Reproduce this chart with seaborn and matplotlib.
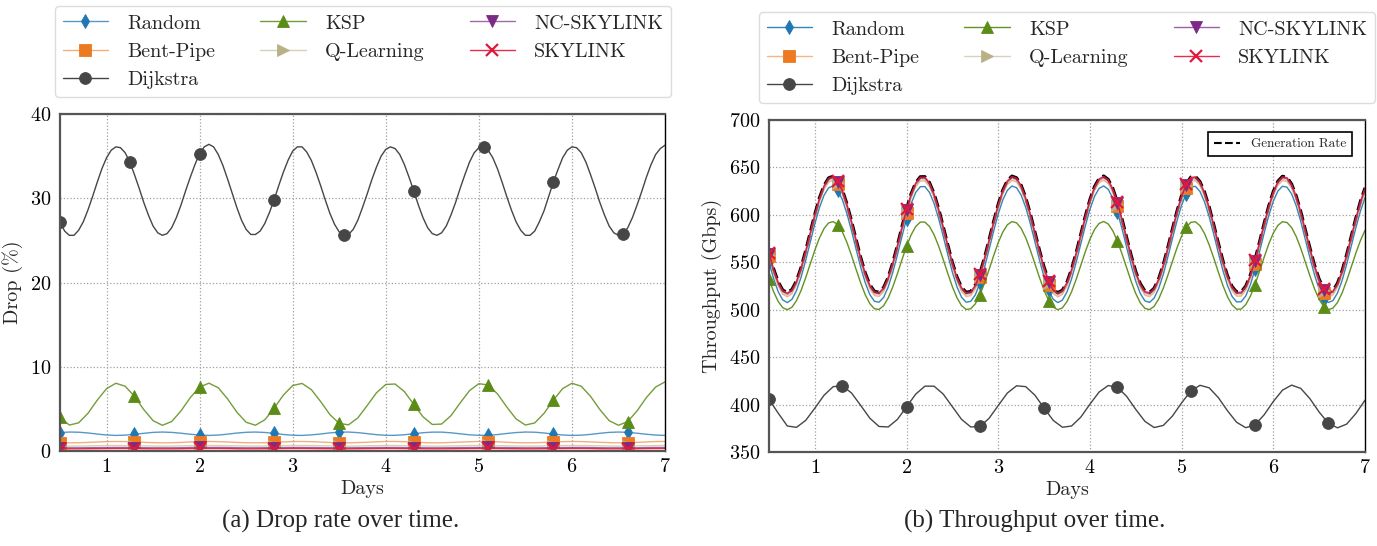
import numpy as np
import matplotlib
matplotlib.use("Agg")
import matplotlib.pyplot as plt
from matplotlib.colors import to_rgba
import seaborn as sns

# ---------------------------------------------------------------- data
# time axis (days); fine grid every 0.05 day, coarse grid every 0.1 day
days_fine = np.linspace(0.5, 7.0, 131)
days_coarse = np.linspace(0.5, 7.0, 66)

# ---- drop rate (%) ----
drop_dijkstra = [
    27.2, 26.1, 25.6, 25.6, 26.2, 27.2, 28.6, 30.2, 31.9, 33.5,
    34.8, 35.7, 36.1, 36.0, 35.4, 34.3, 32.8, 31.2, 29.5, 28.0,
    26.7, 25.9, 25.6, 25.8, 26.5, 27.7, 29.2, 30.9, 32.5, 34.0,
    35.3, 36.1, 36.4, 36.1, 35.2, 33.9, 32.3, 30.6, 28.9, 27.4,
    26.3, 25.7, 25.7, 26.1, 27.0, 28.3, 29.8, 31.5, 33.1, 34.5,
    35.6, 36.1, 36.1, 35.5, 34.5, 33.1, 31.5, 29.8, 28.2, 26.9,
    26.0, 25.6, 25.7, 26.3, 27.4, 28.9, 30.5, 32.2, 33.7, 35.0,
    35.8, 36.1, 35.9, 35.2, 34.0, 32.5, 30.9, 29.2, 27.7, 26.5,
    25.8, 25.6, 25.9, 26.7, 28.0, 29.5, 31.2, 32.8, 34.3, 35.4,
    36.0, 36.1, 35.7, 34.8, 33.5, 31.9, 30.2, 28.6, 27.2, 26.2,
    25.6, 25.6, 26.1, 27.2, 28.5, 30.2, 31.9, 33.4, 34.8, 35.7,
    36.1, 36.0, 35.4, 34.3, 32.8, 31.2, 29.5, 28.0, 26.7, 25.9,
    25.6, 25.8, 26.5, 27.7, 29.2, 30.8, 32.5, 34.0, 35.2, 35.9,
    36.3]

drop_ksp = [
    4.00, 3.08, 3.34, 4.47, 6.03, 7.40, 8.04, 7.69, 6.49, 4.92,
    3.60, 3.05, 3.50, 4.76, 6.34, 7.60, 8.05, 7.51, 6.19, 4.61,
    3.41, 3.06, 3.70, 5.07, 6.64, 7.77, 8.02, 7.29, 5.87, 4.32,
    3.27, 3.11, 3.93, 5.39, 6.91, 7.90, 7.95, 7.05, 5.55, 4.06,
    3.15, 3.20, 4.19, 5.71, 7.17, 7.99, 7.84, 6.78, 5.23, 3.81,
    3.08, 3.33, 4.46, 6.03, 7.40, 8.04, 7.69, 6.49, 4.92, 3.60,
    3.05, 3.50, 4.76, 6.34, 7.60, 8.20]

drop_random = [
    2.19, 2.25, 2.23, 2.14, 2.01, 1.90, 1.85, 1.88, 1.98, 2.10,
    2.21, 2.25, 2.21, 2.11, 1.99, 1.89, 1.85, 1.89, 2.00, 2.13,
    2.22, 2.25, 2.20, 2.09, 1.96, 1.87, 1.85, 1.91, 2.02, 2.15,
    2.23, 2.25, 2.18, 2.06, 1.94, 1.86, 1.86, 1.93, 2.05, 2.17,
    2.24, 2.24, 2.16, 2.04, 1.92, 1.86, 1.87, 1.95, 2.08, 2.19,
    2.25, 2.23, 2.14, 2.01, 1.90, 1.85, 1.88, 1.97, 2.10, 2.21,
    2.25, 2.21, 2.11, 1.99, 1.89, 1.85]

drop_bentpipe = [
    0.99, 0.97, 0.98, 1.02, 1.07, 1.11, 1.13, 1.12, 1.08, 1.03,
    0.99, 0.97, 0.98, 1.02, 1.08, 1.12, 1.13, 1.11, 1.07, 1.02,
    0.98, 0.97, 0.99, 1.03, 1.08, 1.12, 1.13, 1.11, 1.06, 1.01,
    0.98, 0.97, 1.00, 1.04, 1.09, 1.13, 1.13, 1.10, 1.05, 1.00,
    0.97, 0.98, 1.01, 1.06, 1.10, 1.13, 1.12, 1.09, 1.04, 0.99,
    0.97, 0.98, 1.02, 1.07, 1.11, 1.13, 1.12, 1.08, 1.03, 0.99,
    0.97, 0.98, 1.02, 1.08, 1.12, 1.13]

drop_qlearning = [
    0.59, 0.58, 0.58, 0.60, 0.63, 0.65, 0.66, 0.65, 0.64, 0.61,
    0.59, 0.58, 0.59, 0.61, 0.63, 0.65, 0.66, 0.65, 0.63, 0.61,
    0.59, 0.58, 0.59, 0.61, 0.64, 0.66, 0.66, 0.65, 0.63, 0.60,
    0.58, 0.58, 0.59, 0.62, 0.64, 0.66, 0.66, 0.64, 0.62, 0.60,
    0.58, 0.58, 0.60, 0.62, 0.65, 0.66, 0.66, 0.64, 0.61, 0.59,
    0.58, 0.58, 0.60, 0.63, 0.65, 0.66, 0.65, 0.64, 0.61, 0.59,
    0.58, 0.59, 0.61, 0.63, 0.65, 0.66]

drop_ncskylink = [
    0.39, 0.38, 0.38, 0.39, 0.40, 0.41, 0.42, 0.42, 0.41, 0.39,
    0.38, 0.38, 0.38, 0.39, 0.41, 0.42, 0.42, 0.42, 0.41, 0.39,
    0.38, 0.38, 0.39, 0.40, 0.41, 0.42, 0.42, 0.41, 0.40, 0.39,
    0.38, 0.38, 0.39, 0.40, 0.41, 0.42, 0.42, 0.41, 0.40, 0.39,
    0.38, 0.38, 0.39, 0.40, 0.41, 0.42, 0.42, 0.41, 0.40, 0.39,
    0.38, 0.38, 0.39, 0.40, 0.41, 0.42, 0.42, 0.41, 0.39, 0.38,
    0.38, 0.38, 0.39, 0.41, 0.42, 0.42]

drop_skylink = [
    0.27, 0.26, 0.26, 0.27, 0.28, 0.29, 0.30, 0.30, 0.29, 0.27,
    0.26, 0.26, 0.26, 0.27, 0.29, 0.30, 0.30, 0.30, 0.29, 0.27,
    0.26, 0.26, 0.27, 0.28, 0.29, 0.30, 0.30, 0.29, 0.28, 0.27,
    0.26, 0.26, 0.27, 0.28, 0.29, 0.30, 0.30, 0.29, 0.28, 0.27,
    0.26, 0.26, 0.27, 0.28, 0.29, 0.30, 0.30, 0.29, 0.28, 0.27,
    0.26, 0.26, 0.27, 0.28, 0.29, 0.30, 0.30, 0.29, 0.27, 0.26,
    0.26, 0.26, 0.27, 0.29, 0.30, 0.30]

# ---- throughput (Gbps) ----
thr_generation = [
    560.7, 543.3, 529.5, 520.8, 518.0, 521.4, 530.7, 544.8, 562.5, 581.9,
    601.0, 618.0, 631.1, 639.0, 640.9, 636.6, 626.5, 611.7, 593.7, 574.2,
    555.3, 538.8, 526.4, 519.4, 518.4, 523.5, 534.4, 549.8, 568.1, 587.7,
    606.4, 622.4, 634.1, 640.2, 640.3, 634.2, 622.6, 606.7, 588.0, 568.5,
    550.0, 534.6, 523.7, 518.4, 519.3, 526.2, 538.5, 555.0, 573.9, 593.3,
    611.5, 626.3, 636.4, 640.9, 639.1, 631.3, 618.3, 601.3, 582.2, 562.8,
    545.1, 530.9, 521.5, 518.0, 520.7, 529.3, 543.0, 560.4, 579.7, 598.9,
    616.3, 629.9, 638.4, 641.0, 637.4, 627.9, 613.6, 595.9, 576.4, 557.4,
    540.4, 527.5, 519.8, 518.2, 522.7, 532.9, 547.8, 566.0, 585.5, 604.3,
    620.7, 632.9, 639.8, 640.6, 635.2, 624.1, 608.7, 590.2, 570.6, 552.0,
    536.1, 524.6, 518.7, 518.9, 525.1, 536.9, 552.9, 571.7, 591.2, 609.5,
    624.8, 635.6, 640.7, 639.6, 632.5, 620.0, 603.4, 584.4, 565.0, 547.0,
    532.3, 522.3, 518.1, 520.1, 528.1, 541.2, 558.3, 577.5, 596.8, 614.4,
    628.5]

thr_skylink = [
    560.2, 542.8, 529.0, 520.3, 517.5, 520.9, 530.2, 544.3, 562.0, 581.4,
    600.5, 617.5, 630.6, 638.5, 640.4, 636.1, 626.0, 611.2, 593.2, 573.7,
    554.8, 538.3, 525.9, 518.9, 517.9, 523.0, 533.9, 549.3, 567.6, 587.2,
    605.9, 621.9, 633.6, 639.7, 639.8, 633.7, 622.1, 606.2, 587.5, 568.0,
    549.5, 534.1, 523.2, 517.9, 518.8, 525.7, 538.0, 554.5, 573.4, 592.8,
    611.0, 625.8, 635.9, 640.4, 638.6, 630.8, 617.8, 600.8, 581.7, 562.3,
    544.6, 530.4, 521.0, 517.5, 520.2, 528.8, 542.5, 559.9, 579.2, 598.4,
    615.8, 629.4, 637.9, 640.5, 636.9, 627.4, 613.1, 595.4, 575.9, 556.9,
    539.9, 527.0, 519.3, 517.7, 522.2, 532.4, 547.3, 565.5, 585.0, 603.8,
    620.2, 632.4, 639.3, 640.1, 634.7, 623.6, 608.2, 589.7, 570.1, 551.5,
    535.6, 524.1, 518.2, 518.4, 524.6, 536.4, 552.4, 571.2, 590.7, 609.0,
    624.3, 635.1, 640.2, 639.1, 632.0, 619.5, 602.9, 583.9, 564.5, 546.5,
    531.8, 521.8, 517.6, 519.6, 527.6, 540.7, 557.8, 577.0, 596.3, 613.9,
    628.0]

thr_ncskylink = [
    559.2, 541.8, 528.0, 519.3, 516.5, 519.9, 529.2, 543.3, 561.0, 580.4,
    599.5, 616.5, 629.6, 637.5, 639.4, 635.1, 625.0, 610.2, 592.2, 572.7,
    553.8, 537.3, 524.9, 517.9, 516.9, 522.0, 532.9, 548.3, 566.6, 586.2,
    604.9, 620.9, 632.6, 638.7, 638.8, 632.7, 621.1, 605.2, 586.5, 567.0,
    548.5, 533.1, 522.2, 516.9, 517.8, 524.7, 537.0, 553.5, 572.4, 591.8,
    610.0, 624.8, 634.9, 639.4, 637.6, 629.8, 616.8, 599.8, 580.7, 561.3,
    543.6, 529.4, 520.0, 516.5, 519.2, 527.8, 541.5, 558.9, 578.2, 597.4,
    614.8, 628.4, 636.9, 639.5, 635.9, 626.4, 612.1, 594.4, 574.9, 555.9,
    538.9, 526.0, 518.3, 516.7, 521.2, 531.4, 546.3, 564.5, 584.0, 602.8,
    619.2, 631.4, 638.3, 639.1, 633.7, 622.6, 607.2, 588.7, 569.1, 550.5,
    534.6, 523.1, 517.2, 517.4, 523.6, 535.4, 551.4, 570.2, 589.7, 608.0,
    623.3, 634.1, 639.2, 638.1, 631.0, 618.5, 601.9, 582.9, 563.5, 545.5,
    530.8, 520.8, 516.6, 518.6, 526.6, 539.7, 556.8, 576.0, 595.3, 612.9,
    627.0]

thr_qlearning = [
    557.7, 540.3, 526.5, 517.8, 515.0, 518.4, 527.7, 541.8, 559.5, 578.9,
    598.0, 615.0, 628.1, 636.0, 637.9, 633.6, 623.5, 608.7, 590.7, 571.2,
    552.3, 535.8, 523.4, 516.4, 515.4, 520.5, 531.4, 546.8, 565.1, 584.7,
    603.4, 619.4, 631.1, 637.2, 637.3, 631.2, 619.6, 603.7, 585.0, 565.5,
    547.0, 531.6, 520.7, 515.4, 516.3, 523.2, 535.5, 552.0, 570.9, 590.3,
    608.5, 623.3, 633.4, 637.9, 636.1, 628.3, 615.3, 598.3, 579.2, 559.8,
    542.1, 527.9, 518.5, 515.0, 517.7, 526.3, 540.0, 557.4, 576.7, 595.9,
    613.3, 626.9, 635.4, 638.0, 634.4, 624.9, 610.6, 592.9, 573.4, 554.4,
    537.4, 524.5, 516.8, 515.2, 519.7, 529.9, 544.8, 563.0, 582.5, 601.3,
    617.7, 629.9, 636.8, 637.6, 632.2, 621.1, 605.7, 587.2, 567.6, 549.0,
    533.1, 521.6, 515.7, 515.9, 522.1, 533.9, 549.9, 568.7, 588.2, 606.5,
    621.8, 632.6, 637.7, 636.6, 629.5, 617.0, 600.4, 581.4, 562.0, 544.0,
    529.3, 519.3, 515.1, 517.1, 525.1, 538.2, 555.3, 574.5, 593.8, 611.4,
    625.5]

thr_bentpipe = [
    556.2, 538.8, 525.0, 516.3, 513.5, 516.9, 526.2, 540.3, 558.0, 577.4,
    596.5, 613.5, 626.6, 634.5, 636.4, 632.1, 622.0, 607.2, 589.2, 569.7,
    550.8, 534.3, 521.9, 514.9, 513.9, 519.0, 529.9, 545.3, 563.6, 583.2,
    601.9, 617.9, 629.6, 635.7, 635.8, 629.7, 618.1, 602.2, 583.5, 564.0,
    545.5, 530.1, 519.2, 513.9, 514.8, 521.7, 534.0, 550.5, 569.4, 588.8,
    607.0, 621.8, 631.9, 636.4, 634.6, 626.8, 613.8, 596.8, 577.7, 558.3,
    540.6, 526.4, 517.0, 513.5, 516.2, 524.8, 538.5, 555.9, 575.2, 594.4,
    611.8, 625.4, 633.9, 636.5, 632.9, 623.4, 609.1, 591.4, 571.9, 552.9,
    535.9, 523.0, 515.3, 513.7, 518.2, 528.4, 543.3, 561.5, 581.0, 599.8,
    616.2, 628.4, 635.3, 636.1, 630.7, 619.6, 604.2, 585.7, 566.1, 547.5,
    531.6, 520.1, 514.2, 514.4, 520.6, 532.4, 548.4, 567.2, 586.7, 605.0,
    620.3, 631.1, 636.2, 635.1, 628.0, 615.5, 598.9, 579.9, 560.5, 542.5,
    527.8, 517.8, 513.6, 515.6, 523.6, 536.7, 553.8, 573.0, 592.3, 609.9,
    624.0]

thr_random = [
    550.2, 532.8, 519.0, 510.3, 507.5, 510.9, 520.2, 534.3, 552.0, 571.4,
    590.5, 607.5, 620.6, 628.5, 630.4, 626.1, 616.0, 601.2, 583.2, 563.7,
    544.8, 528.3, 515.9, 508.9, 507.9, 513.0, 523.9, 539.3, 557.6, 577.2,
    595.9, 611.9, 623.6, 629.7, 629.8, 623.7, 612.1, 596.2, 577.5, 558.0,
    539.5, 524.1, 513.2, 507.9, 508.8, 515.7, 528.0, 544.5, 563.4, 582.8,
    601.0, 615.8, 625.9, 630.4, 628.6, 620.8, 607.8, 590.8, 571.7, 552.3,
    534.6, 520.4, 511.0, 507.5, 510.2, 518.8, 532.5, 549.9, 569.2, 588.4,
    605.8, 619.4, 627.9, 630.5, 626.9, 617.4, 603.1, 585.4, 565.9, 546.9,
    529.9, 517.0, 509.3, 507.7, 512.2, 522.4, 537.3, 555.5, 575.0, 593.8,
    610.2, 622.4, 629.3, 630.1, 624.7, 613.6, 598.2, 579.7, 560.1, 541.5,
    525.6, 514.1, 508.2, 508.4, 514.6, 526.4, 542.4, 561.2, 580.7, 599.0,
    614.3, 625.1, 630.2, 629.1, 622.0, 609.5, 592.9, 573.9, 554.5, 536.5,
    521.8, 511.8, 507.6, 509.6, 517.6, 530.7, 547.8, 567.0, 586.3, 603.9,
    618.0]

thr_ksp = [
    532.3, 519.1, 508.7, 502.1, 500.0, 502.6, 509.6, 520.3, 533.7, 548.3,
    562.8, 575.6, 585.5, 591.5, 592.9, 589.7, 582.1, 570.9, 557.2, 542.5,
    528.2, 515.7, 506.3, 501.0, 500.3, 504.2, 512.4, 524.0, 537.9, 552.7,
    566.8, 578.9, 587.7, 592.4, 592.4, 587.8, 579.1, 567.1, 552.9, 538.2,
    524.2, 512.6, 504.3, 500.3, 501.0, 506.2, 515.5, 528.0, 542.3, 557.0,
    570.7, 581.9, 589.6, 592.9, 591.6, 585.7, 575.8, 563.0, 548.5, 533.9,
    520.5, 509.7, 502.7, 500.0, 502.0, 508.6, 518.9, 532.0, 546.6, 561.2,
    574.3, 584.6, 591.0, 593.0, 590.3, 583.1, 572.3, 558.9, 544.2, 529.8,
    517.0, 507.2, 501.4, 500.1, 503.5, 511.3, 522.6, 536.3, 551.0, 565.3,
    577.7, 586.9, 592.1, 592.7, 588.6, 580.3, 568.5, 554.6, 539.8, 525.7,
    513.7, 505.0, 500.5, 500.7, 505.4, 514.3, 526.4, 540.6, 555.3, 569.2,
    580.8, 588.9, 592.8, 591.9, 586.5, 577.1, 564.6, 550.2, 535.5, 521.9,
    510.8, 503.3, 500.1, 501.6, 507.6, 517.6, 530.5, 545.0, 559.6, 572.9,
    583.6]

thr_dijkstra = [
    405.5, 391.0, 377.4, 376.0, 383.3, 396.2, 409.8, 418.9, 419.8, 412.2,
    399.1, 385.6, 376.9, 376.4, 384.3, 397.6, 411.0, 419.4, 419.4, 411.1,
    397.7, 384.4, 376.4, 376.9, 385.5, 399.0, 412.2, 419.8, 418.9, 409.9,
    396.3, 383.3, 376.1, 377.4, 386.7, 400.4, 413.2, 420.1, 418.3, 408.7,
    394.9, 382.3, 375.8, 378.0, 387.9, 401.8, 414.2, 420.3, 417.7, 407.4,
    393.5, 381.3, 375.6, 378.7, 389.2, 403.2, 415.2, 420.5, 417.0, 406.1,
    392.1, 380.4, 375.5, 379.4, 390.5, 404.6]

methods = ["Random", "Bent-Pipe", "Dijkstra", "KSP", "Q-Learning", "NC-SKYLINK", "SKYLINK"]

# ---------------------------------------------------------------- styles
COLORS = {"Random": "#1f77b4", "Bent-Pipe": "#ec7a23", "Dijkstra": "#464646",
          "KSP": "#5b8c17", "Q-Learning": "#b9b186", "NC-SKYLINK": "#7b2a85",
          "SKYLINK": "#e3173a"}
MARKERS = {"Random": "d", "Bent-Pipe": "s", "Dijkstra": "o", "KSP": "^",
           "Q-Learning": ">", "NC-SKYLINK": "v", "SKYLINK": "x"}
MSIZE = {"Random": 7.5, "Bent-Pipe": 8.5, "Dijkstra": 8.5, "KSP": 9,
         "Q-Learning": 9, "NC-SKYLINK": 9, "SKYLINK": 8.5}
ALPHA_DROP = {"Random": 0.75, "Bent-Pipe": 0.6, "Dijkstra": 1.0, "KSP": 0.85,
              "Q-Learning": 0.6, "NC-SKYLINK": 0.7, "SKYLINK": 0.9}
ALPHA_THR = {"Random": 0.9, "Bent-Pipe": 0.55, "Dijkstra": 1.0, "KSP": 0.95,
             "Q-Learning": 0.55, "NC-SKYLINK": 0.75, "SKYLINK": 0.9}

MARK_FINE = [0, 15, 30, 46, 61, 76, 91, 106, 121]
MARK_COARSE = [0, 8, 15, 23, 30, 38, 46, 53, 61]

sns.set_theme(style="whitegrid")
plt.rcParams.update({
    "font.family": "cmr10",
    "mathtext.fontset": "cm",
    "axes.formatter.use_mathtext": True,
    "axes.unicode_minus": False,
})

W, H = 1377, 546
fig = plt.figure(figsize=(W / 100, H / 100), dpi=100)
fig.patch.set_facecolor("white")
ax1 = fig.add_axes([60 / W, 1 - 451 / H, 605 / W, 337 / H])
ax2 = fig.add_axes([769 / W, 1 - 452 / H, 596 / W, 332 / H])


def draw(ax, x, y, name, alpha, marks):
    c = COLORS[name]
    sns.lineplot(x=x, y=y, ax=ax, color=c, lw=1.0, marker=MARKERS[name],
                 markersize=MSIZE[name], markevery=marks, mec=c, mew=1.6,
                 label=name, legend=False, errorbar=None, sort=False)
    line = ax.lines[-1]
    line.set_color(to_rgba(c, alpha))
    line.set_markerfacecolor(c)
    line.set_markeredgecolor(c)
    line.set_markeredgewidth(1.6 if name == "SKYLINK" else 0.6)
    return line


# ---- (a) drop rate ----
drop_series = {"Random": (days_coarse, drop_random, MARK_COARSE),
               "Bent-Pipe": (days_coarse, drop_bentpipe, MARK_COARSE),
               "Dijkstra": (days_fine, drop_dijkstra, MARK_FINE),
               "KSP": (days_coarse, drop_ksp, MARK_COARSE),
               "Q-Learning": (days_coarse, drop_qlearning, MARK_COARSE),
               "NC-SKYLINK": (days_coarse, drop_ncskylink, MARK_COARSE),
               "SKYLINK": (days_coarse, drop_skylink, MARK_COARSE)}
h1 = [draw(ax1, *drop_series[m][:2], m, ALPHA_DROP[m], drop_series[m][2]) for m in methods]

# ---- (b) throughput ----
sns.lineplot(x=days_fine, y=thr_generation, ax=ax2, color="black", lw=2.2,
             linestyle="--", label="Generation Rate", legend=False,
             errorbar=None, sort=False)
gen_line = ax2.lines[-1]
thr_series = {"Random": (days_fine, thr_random, MARK_FINE),
              "Bent-Pipe": (days_fine, thr_bentpipe, MARK_FINE),
              "Dijkstra": (days_coarse, thr_dijkstra, MARK_COARSE),
              "KSP": (days_fine, thr_ksp, MARK_FINE),
              "Q-Learning": (days_fine, thr_qlearning, MARK_FINE),
              "NC-SKYLINK": (days_fine, thr_ncskylink, MARK_FINE),
              "SKYLINK": (days_fine, thr_skylink, MARK_FINE)}
h2 = [draw(ax2, *thr_series[m][:2], m, ALPHA_THR[m], thr_series[m][2]) for m in methods]

FS = 14.5
for ax, (lo, hi, step), ylab in [(ax1, (0, 40, 10), "Drop (%)"),
                                 (ax2, (350, 700, 50), "Throughput (Gbps)")]:
    ax.set_xlim(0.5, 7.0)
    ax.set_ylim(lo, hi)
    ax.set_xticks(range(1, 8))
    ax.set_yticks(np.arange(lo, hi + 1, step))
    ax.grid(True, linestyle=":", color="#a0a0a0", lw=0.9)
    ax.tick_params(axis="both", length=0, labelsize=FS, colors="black")
    ax.tick_params(axis="x", pad=5)
    ax.tick_params(axis="y", pad=6)
    ax.set_xlabel("Days", fontsize=FS, labelpad=3)
    ax.set_ylabel(ylab, fontsize=FS, labelpad=5)
    ax.set_facecolor("white")
    for s in ["left", "bottom", "top"]:
        ax.spines[s].set_color("#555555")
        ax.spines[s].set_linewidth(1.6)
    ax.spines["right"].set_color("black")
    ax.spines["right"].set_linewidth(1.0)

leg_kw = dict(ncol=3, fontsize=FS, handlelength=2.25, handletextpad=0.95,
              columnspacing=2.25, frameon=True, fancybox=True, framealpha=1.0,
              edgecolor="#dcdcdc", borderpad=0.4, labelspacing=0.5,
              loc="lower center", bbox_transform=fig.transFigure)
fig.legend(handles=h1, labels=methods, bbox_to_anchor=(363 / W, 1 - 107 / H), **leg_kw)
fig.legend(handles=h2, labels=methods, bbox_to_anchor=(1067 / W, 1 - 113 / H), **leg_kw)

gl = ax2.legend(handles=[gen_line], labels=["Generation Rate"], loc="upper right",
                bbox_to_anchor=(1 - 13 / 596, 1 - 12 / 332), borderaxespad=0,
                fontsize=9.5, fancybox=False, framealpha=1.0, edgecolor="black",
                handlelength=2.0, borderpad=0.45)
gl.get_frame().set_linewidth(1.2)
gl.get_lines()[0].set_linewidth(1.5)

fig.text(341 / W, 1 - 521 / H, "(a) Drop rate over time.", ha="center", va="center",
         fontsize=18, family="Liberation Serif")
fig.text(1035 / W, 1 - 521 / H, "(b) Throughput over time.", ha="center", va="center",
         fontsize=18, family="Liberation Serif")

fig.savefig("out.png", dpi=100, facecolor="white")
